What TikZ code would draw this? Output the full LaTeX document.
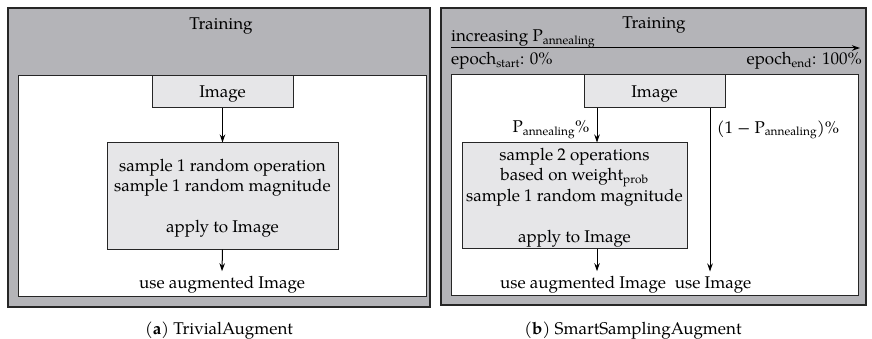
\documentclass[tikz,border=0pt]{standalone}
\usepackage{fontspec}
\setmainfont{TeX Gyre Pagella}
\usetikzlibrary{arrows.meta}
\definecolor{outergray}{RGB}{180,180,184}
\definecolor{boxgray}{RGB}{230,230,232}
\tikzset{
  outerbox/.style={draw=black!85, line width=1.2pt, fill=outergray, inner sep=0, rectangle},
  innerbox/.style={draw=black!85, line width=1pt, fill=white, inner sep=0, rectangle},
  graybox/.style={draw=black!85, line width=1pt, fill=boxgray, inner sep=0, rectangle},
  txt/.style={inner sep=0, font=\fontsize{17}{20.5}\selectfont},
  imgtxt/.style={text height=14.5pt, text depth=2.5pt},
  usetxt/.style={inner xsep=2pt, inner ysep=5pt},
  arr/.style={line width=1pt, -{Stealth[length=8pt,width=5.5pt]}},
}
\begin{document}
\begin{tikzpicture}[x=1pt,y=-1pt]
\useasboundingbox (0,0) rectangle (872,339);
% ---------- (a) ----------
\node[outerbox, minimum width=422pt, minimum height=299pt] (outA) at (219,157.5) {};
\node[innerbox, minimum width=408pt, minimum height=220pt] (inA) at (222,186) {};
\node[txt] (trainA) at (221,26) {Training};
\node[graybox, minimum width=141pt, minimum height=32pt, txt, imgtxt] (imgA) at (222.5,92) {Image};
\node[graybox, minimum width=231pt, minimum height=106pt, txt, align=center] (boxA) at (222.5,196)
  {\rule{0pt}{17pt}sample 1 random operation\\sample 1 random magnitude\\[20.5pt]apply to Image};
\node[txt, usetxt] (useA) at (222,285) {use augmented Image};
\draw[arr] (imgA.south) -- (boxA.north);
\draw[arr] (boxA.south) -- (useA.north);
\node[txt] (capA) at (219,331) {(\textbf{a}) TrivialAugment};
% ---------- (b) ----------
\node[outerbox, minimum width=425pt, minimum height=297pt] (outB) at (653.5,156.5) {};
\node[innerbox, minimum width=407pt, minimum height=220pt] (inB) at (654.5,185) {};
\node[txt] (trainB) at (654,25) {Training};
\node[txt, anchor=base west] (incr) at (451,42) {increasing P\textsubscript{annealing}};
\coordinate (aS) at (451,48);
\coordinate (aE) at (860,48);
\draw[arr] (aS) -- (aE);
\node[txt, anchor=base west] (epS) at (451,65) {epoch\textsubscript{start}: 0\%};
\node[txt, anchor=base east] (epE) at (862,65) {epoch\textsubscript{end}: 100\%};
\node[graybox, minimum width=141pt, minimum height=33pt, txt, imgtxt] (imgB) at (654.5,91.5) {Image};
\node[graybox, minimum width=225pt, minimum height=105pt, txt, align=center] (boxB) at (574.5,195.5)
  {\rule{0pt}{16pt}sample 2 operations\\based on weight\textsubscript{prob}\\sample 1 random magnitude\\[20.5pt]apply to Image};
\coordinate (xL) at (597,0);
\coordinate (xR) at (710,0);
\node[txt, usetxt] (useB) at (583,285) {use augmented Image};
\node[txt, usetxt] (useI) at (713,285) {use Image};
\draw[arr] (imgB.south -| xL) -- (boxB.north -| xL);
\draw[arr] (boxB.south -| xL) -- (useB.north -| xL);
\draw[arr] (imgB.south -| xR) -- (useI.north -| xR);
\node[txt] (pA) at (551,130) {P\textsubscript{annealing}\%};
\node[txt] (pB) at (778,130) {(1 − P\textsubscript{annealing})\%};
\node[txt] (capB) at (633,331) {(\textbf{b}) SmartSamplingAugment};
\end{tikzpicture}
\end{document}
